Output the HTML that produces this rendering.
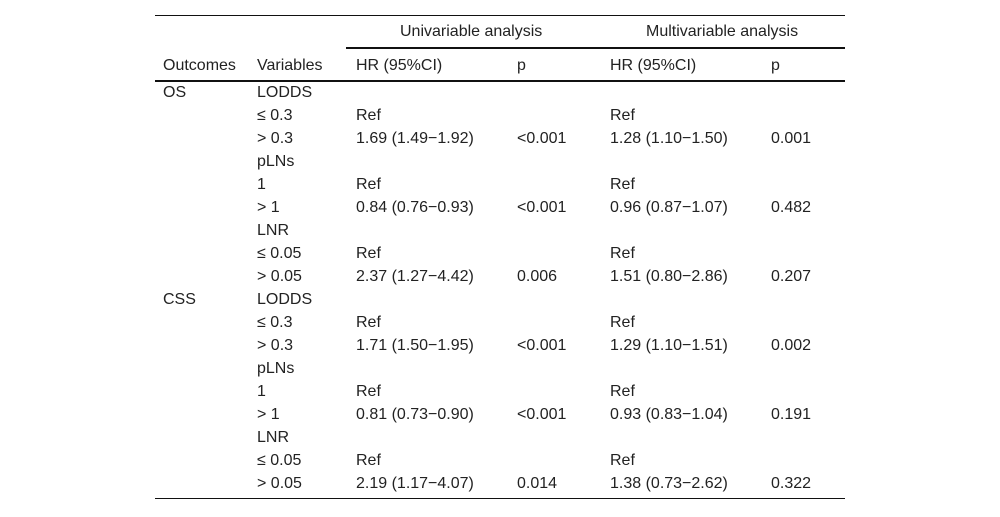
<!DOCTYPE html>
<html><head><meta charset="utf-8"><style>
html,body{margin:0;padding:0;background:#fff;width:1000px;height:517px;overflow:hidden;}
body{position:relative;font-family:"Liberation Sans",sans-serif;font-size:16px;color:#222;}
.l{position:absolute;background:#111;}
.t{position:absolute;white-space:nowrap;line-height:16px;}
</style></head><body>
<div class="l" style="left:155px;top:15px;width:690px;height:1px"></div>
<div class="l" style="left:346px;top:47px;width:499px;height:2px"></div>
<div class="l" style="left:155px;top:80px;width:690px;height:2px"></div>
<div class="l" style="left:155px;top:498px;width:690px;height:1px"></div>
<div class="t" style="left:400px;top:24px">Univariable analysis</div>
<div class="t" style="left:646px;top:24px">Multivariable analysis</div>
<div class="t" style="left:163px;top:58px">Outcomes</div>
<div class="t" style="left:257px;top:58px">Variables</div>
<div class="t" style="left:356px;top:58px">HR (95%CI)</div>
<div class="t" style="left:517px;top:58px">p</div>
<div class="t" style="left:610px;top:58px">HR (95%CI)</div>
<div class="t" style="left:771px;top:58px">p</div>
<div id="rows"></div>
<script>
var r=[["OS","LODDS","","","",""],["","≤ 0.3","Ref","","Ref",""],["","> 0.3","1.69 (1.49−1.92)","<0.001","1.28 (1.10−1.50)","0.001"],
["","pLNs","","","",""],["","1","Ref","","Ref",""],["","> 1","0.84 (0.76−0.93)","<0.001","0.96 (0.87−1.07)","0.482"],
["","LNR","","","",""],["","≤ 0.05","Ref","","Ref",""],["","> 0.05","2.37 (1.27−4.42)","0.006","1.51 (0.80−2.86)","0.207"],
["CSS","LODDS","","","",""],["","≤ 0.3","Ref","","Ref",""],["","> 0.3","1.71 (1.50−1.95)","<0.001","1.29 (1.10−1.51)","0.002"],
["","pLNs","","","",""],["","1","Ref","","Ref",""],["","> 1","0.81 (0.73−0.90)","<0.001","0.93 (0.83−1.04)","0.191"],
["","LNR","","","",""],["","≤ 0.05","Ref","","Ref",""],["","> 0.05","2.19 (1.17−4.07)","0.014","1.38 (0.73−2.62)","0.322"]];
var xs=[163,257,356,517,610,771],h="";
r.forEach(function(row,i){var y=85+i*23;row.forEach(function(c,j){if(c)h+='<div class="t" style="left:'+xs[j]+'px;top:'+y+'px">'+c.replace(/</g,"&lt;").replace(/>/g,"&gt;")+'</div>';});});
document.getElementById("rows").innerHTML=h;
</script>
</body></html>
